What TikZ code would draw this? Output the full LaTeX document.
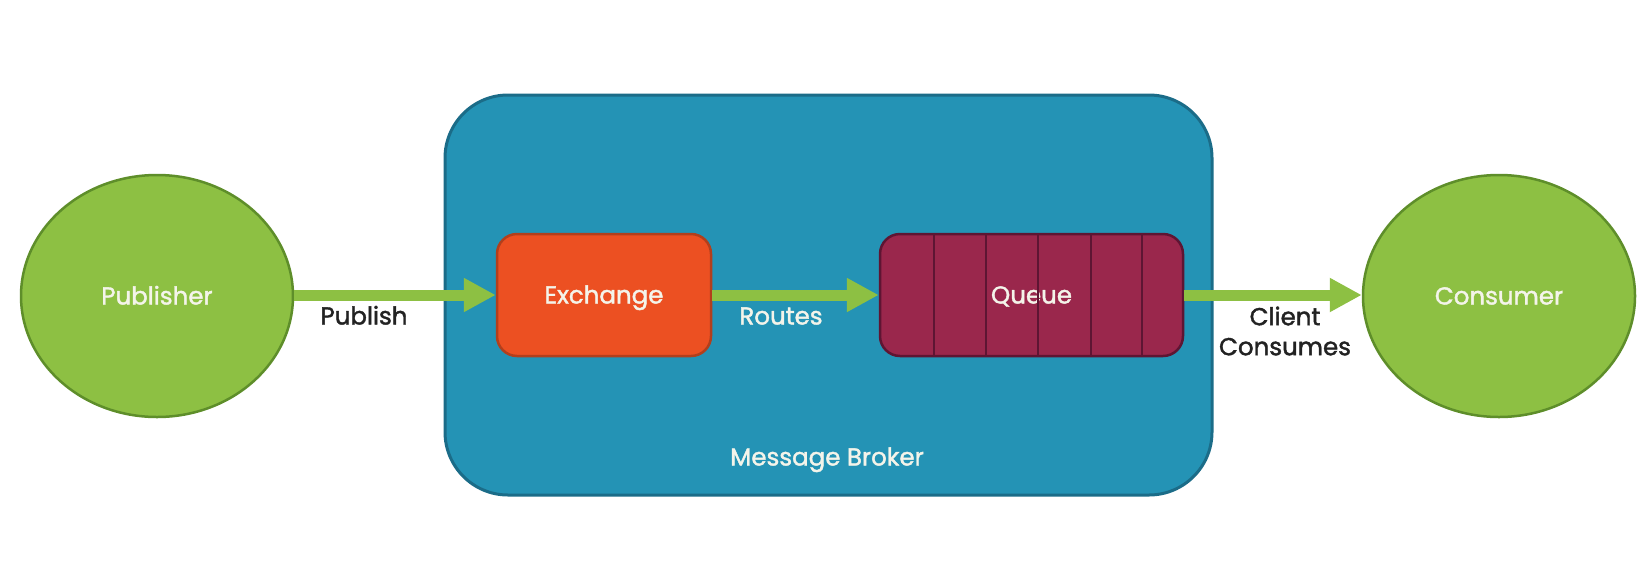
\documentclass[tikz,border=0pt]{standalone}
\usepackage{fontspec}
\setmainfont{Poppins}[FakeBold=1.6]
\usetikzlibrary{arrows.meta,shapes.geometric}
\definecolor{gfill}{HTML}{8DC043}
\definecolor{gdraw}{HTML}{5E8E2A}
\definecolor{bfill}{HTML}{2493B5}
\definecolor{bdraw}{HTML}{1B6C88}
\definecolor{efill}{HTML}{EC5022}
\definecolor{edraw}{HTML}{B23F1C}
\definecolor{qfill}{HTML}{9A274C}
\definecolor{qdraw}{HTML}{5E1533}
\definecolor{wtext}{HTML}{F4F4EA}
\definecolor{dtext}{HTML}{222222}
\tikzset{
  txt/.style={font=\fontsize{24.5}{30}\selectfont, text height=17pt, text depth=0pt},
  endpoint/.style={ellipse, fill=gfill, draw=gdraw, line width=2.5pt, minimum width=272pt, minimum height=242pt, inner sep=0pt, text=wtext, txt},
  inbox/.style={rounded corners=20pt, line width=2.5pt, minimum width=214pt, minimum height=122pt, inner sep=0pt, text=wtext, txt},
  flow/.style={draw=gfill, line width=11pt, -{Triangle[length=32pt,width=32pt]}},
  divider/.style={draw=qdraw, line width=2pt},
}
\begin{document}
\begin{tikzpicture}[x=1pt,y=-1pt]
\useasboundingbox[fill=white] (0,0) rectangle (1652,582);
\node[rounded corners=63pt, fill=bfill, draw=bdraw, line width=3pt, minimum width=767pt, minimum height=400pt, inner sep=0pt] (broker) at (828.5,295) {};
\node[txt, text=wtext] (brokerlbl) at (827,457) {Message Broker};
\node[endpoint] (pub) at (157,296) {Publisher};
\node[endpoint] (con) at (1499,296) {Consumer};
\node[inbox, fill=efill, draw=edraw] (ex) at (604,295) {Exchange};
\node[inbox, fill=qfill, draw=qdraw, minimum width=303pt] (q) at (1031.5,295) {Queue};
\foreach \d in {55,107,159,212,263}{
  \draw[divider] ([xshift=\d pt,yshift=-1.5pt]q.north west) -- ([xshift=\d pt,yshift=1.5pt]q.south west);
}
\draw[flow] (pub.east |- 0,295) -- (ex.west);
\draw[flow] (ex.east) -- (q.west);
\draw[flow] (q.east) -- (con.west |- 0,295);
\node[txt, text=dtext] (publbl) at (364,316) {Publish};
\node[txt, text=wtext] (routelbl) at (781,316) {Routes};
\node[txt, text=dtext, align=center, text height=, text depth=] (conlbl) at (1285,331) {Client\\Consumes};
\end{tikzpicture}
\end{document}
